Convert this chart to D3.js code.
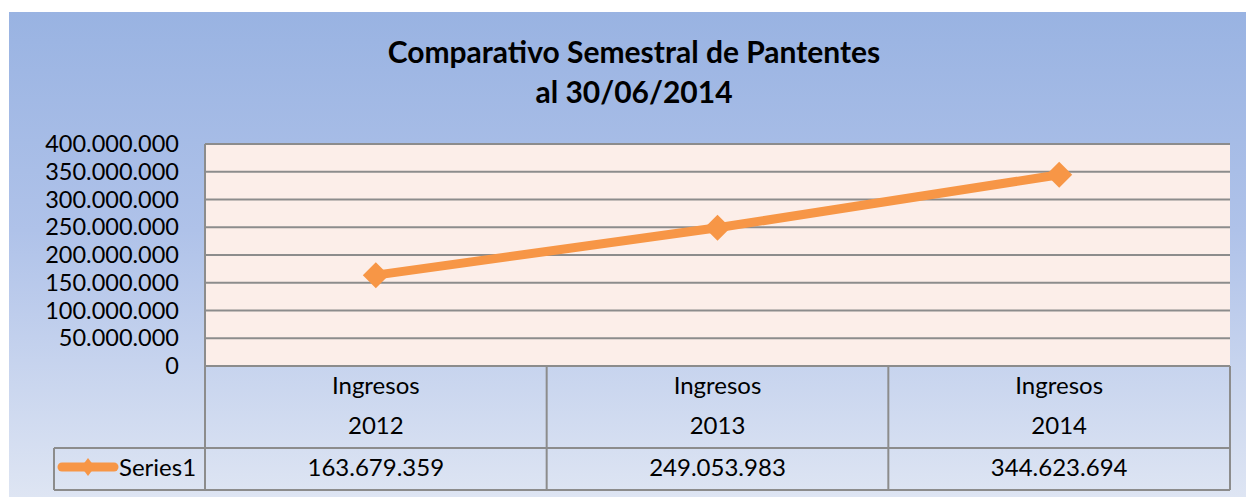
<!DOCTYPE html>
<html>
<head>
<meta charset="utf-8">
<script src="https://cdn.jsdelivr.net/npm/d3@7"></script>
<style>
  html, body { margin: 0; padding: 0; background: #fff; }
  svg { display: block; }
</style>
</head>
<body>
<div id="chart"></div>
<script>
const categories = ['Ingresos 2012', 'Ingresos 2013', 'Ingresos 2014'];
const seriesName = 'Series1';
const seriesValues = [163679359, 249053983, 344623694];
const yTicks = [0, 50000000, 100000000, 150000000, 200000000, 250000000, 300000000, 350000000, 400000000];
const titleLines = ['Comparativo Semestral de Pantentes', 'al 30/06/2014'];

const width = 1246, height = 497;
const font = 'Lato, "Open Sans", sans-serif';
const plot = { left: 205, right: 1230, top: 144, bottom: 366 };
const table = { legendLeft: 54, catBottom: 448, rowBottom: 490 };
const orange = '#F79646';
const gridColor = '#8c8c8c';

const locale = d3.formatLocale({ decimal: ',', thousands: '.', grouping: [3], currency: ['', ''] });
const fmt = locale.format(',d');

const svg = d3.select('#chart').append('svg')
    .attr('width', width)
    .attr('height', height);

const defs = svg.append('defs');
const grad = defs.append('linearGradient')
    .attr('id', 'bg')
    .attr('x1', 0).attr('y1', 0).attr('x2', 0).attr('y2', 1);
grad.append('stop').attr('offset', '0%').attr('stop-color', '#99B3E2');
grad.append('stop').attr('offset', '45%').attr('stop-color', '#AFC2E9');
grad.append('stop').attr('offset', '100%').attr('stop-color', '#DEE5F3');

// chart area background
svg.append('rect')
    .attr('x', 9).attr('y', 12)
    .attr('width', width - 9).attr('height', height - 12)
    .attr('fill', 'url(#bg)');

// title
svg.append('g')
    .selectAll('text')
    .data(titleLines)
    .join('text')
    .attr('x', 634)
    .attr('y', (d, i) => 63 + i * 40)
    .attr('text-anchor', 'middle')
    .attr('font-family', font)
    .attr('font-weight', 'bold')
    .attr('font-size', 30)
    .attr('fill', '#000')
    .text(d => d);

const x = d3.scaleBand()
    .domain(categories)
    .range([plot.left, plot.right]);

const y = d3.scaleLinear()
    .domain([0, 400000000])
    .range([plot.bottom, plot.top]);

// plot background
svg.append('rect')
    .attr('x', plot.left).attr('y', plot.top)
    .attr('width', plot.right - plot.left).attr('height', plot.bottom - plot.top)
    .attr('fill', '#FCEEE9');

// gridlines
svg.append('g')
    .selectAll('line')
    .data(yTicks)
    .join('line')
    .attr('x1', plot.left).attr('x2', plot.right)
    .attr('y1', d => y(d)).attr('y2', d => y(d))
    .attr('stroke', gridColor)
    .attr('stroke-width', 2);

// y axis labels
svg.append('g')
    .attr('transform', `translate(${plot.left},0)`)
    .call(d3.axisLeft(y).tickValues(yTicks).tickFormat(fmt).tickSize(0).tickPadding(26))
    .call(g => {
        g.select('.domain').remove();
        g.selectAll('.tick text')
            .attr('font-family', font)
            .attr('font-size', 23.5)
            .attr('fill', '#000');
    });

// data table
const tbl = svg.append('g')
    .attr('fill', 'none')
    .attr('stroke', gridColor)
    .attr('stroke-width', 2);

// verticals between categories (and plot left border)
const edges = [plot.left, ...categories.map(c => x(c) + x.bandwidth())];
tbl.selectAll('line.v')
    .data(edges)
    .join('line')
    .attr('class', 'v')
    .attr('x1', d => d).attr('x2', d => d)
    .attr('y1', (d, i) => i === 0 ? plot.top : plot.bottom)
    .attr('y2', table.rowBottom);
tbl.append('line')
    .attr('x1', table.legendLeft).attr('x2', plot.right)
    .attr('y1', table.catBottom).attr('y2', table.catBottom);
tbl.append('line')
    .attr('x1', table.legendLeft).attr('x2', plot.right)
    .attr('y1', table.rowBottom).attr('y2', table.rowBottom);
tbl.append('line')
    .attr('x1', table.legendLeft).attr('x2', table.legendLeft)
    .attr('y1', table.catBottom).attr('y2', table.rowBottom);

// category labels (two lines each)
const catG = svg.append('g')
    .attr('font-family', font)
    .attr('font-size', 24)
    .attr('text-anchor', 'middle')
    .attr('fill', '#000');
catG.selectAll('text.c1')
    .data(categories)
    .join('text')
    .attr('class', 'c1')
    .attr('x', d => x(d) + x.bandwidth() / 2)
    .attr('y', 394)
    .text(d => d.split(' ')[0]);
catG.selectAll('text.c2')
    .data(categories)
    .join('text')
    .attr('class', 'c2')
    .attr('x', d => x(d) + x.bandwidth() / 2)
    .attr('y', 434)
    .text(d => d.split(' ')[1]);

// value row
catG.selectAll('text.v')
    .data(seriesValues)
    .join('text')
    .attr('class', 'v')
    .attr('x', (d, i) => x(categories[i]) + x.bandwidth() / 2)
    .attr('y', 476)
    .text(d => fmt(d));

// legend key in table
const diamond = r => `M0,${-r}L${r},0L0,${r}L${-r},0Z`;
const lg = svg.append('g');
lg.append('line')
    .attr('x1', 62).attr('x2', 114)
    .attr('y1', 467).attr('y2', 467)
    .attr('stroke', orange)
    .attr('stroke-width', 9)
    .attr('stroke-linecap', 'round');
lg.append('path')
    .attr('transform', 'translate(88,467) scale(0.75,1)')
    .attr('d', diamond(9))
    .attr('fill', orange);
lg.append('text')
    .attr('x', 119).attr('y', 476)
    .attr('font-family', font)
    .attr('font-size', 24)
    .attr('fill', '#000')
    .text(seriesName);

// series line
const line = d3.line()
    .x((d, i) => x(categories[i]) + x.bandwidth() / 2)
    .y(d => y(d));

svg.append('path')
    .datum(seriesValues)
    .attr('fill', 'none')
    .attr('stroke', orange)
    .attr('stroke-width', 9)
    .attr('stroke-linejoin', 'round')
    .attr('d', line);

svg.append('g')
    .selectAll('path')
    .data(seriesValues)
    .join('path')
    .attr('transform', (d, i) => `translate(${x(categories[i]) + x.bandwidth() / 2},${y(d)})`)
    .attr('d', diamond(13))
    .attr('fill', orange);
</script>
</body>
</html>
